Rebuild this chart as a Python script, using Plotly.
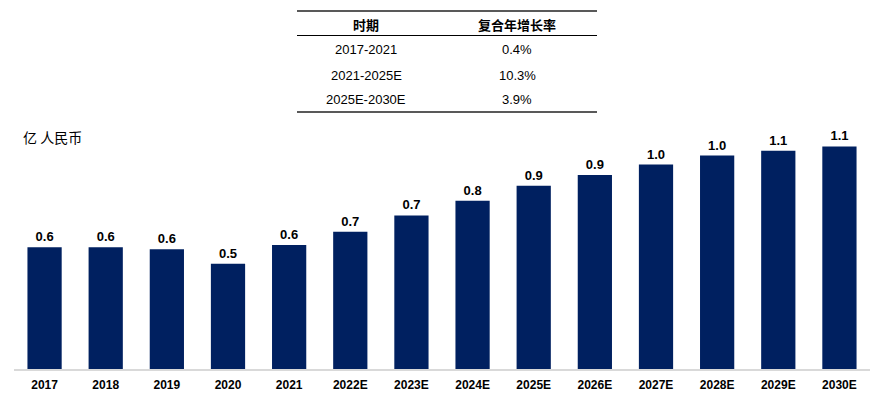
import plotly.graph_objects as go

years = ["2017", "2018", "2019", "2020", "2021", "2022E", "2023E", "2024E",
         "2025E", "2026E", "2027E", "2028E", "2029E", "2030E"]
values = [0.59, 0.59, 0.58, 0.51, 0.60, 0.665, 0.744, 0.815,
          0.888, 0.94, 0.99, 1.034, 1.057, 1.078]
periods = ["2017-2021", "2021-2025E", "2025E-2030E"]
cagr = ["0.4%", "10.3%", "3.9%"]
unit_label = "亿 人民币"
table_headers = ["时期", "复合年增长率"]

OFF = 8  # default page body margin
W, H = 884 - OFF, 401 - OFF
X0, X1, Y0, Y1 = 14, 870, 120, 369
ML, MR, MT, MB = X0 - OFF, 884 - X1, Y0 - OFF, 401 - Y1
PW, PH = X1 - X0, Y1 - Y0


def px(x):
    return (x - X0) / PW


def py(y):
    return (Y1 - y) / PH


fig = go.Figure(go.Bar(
    x=years, y=values,
    marker=dict(color="#002060", line=dict(width=0)),
    texttemplate="<b>%{y:.1f}</b>", textposition="outside",
    textfont=dict(family="Liberation Sans, Arial", size=13, color="#000000"),
    cliponaxis=False,
))

annotations = []
shapes = []

annotations.append(dict(x=px(21), y=py(137), xref="paper", yref="paper",
                        text=unit_label, showarrow=False, xanchor="left", yanchor="middle",
                        font=dict(family="Noto Sans CJK SC", size=14, color="#000000")))

tx0, tx1 = 297, 597
col1, col2 = 366, 517
shapes.append(dict(type="line", xref="paper", yref="paper", x0=px(tx0), x1=px(tx1),
                   y0=py(11), y1=py(11), line=dict(color="#595959", width=2)))
shapes.append(dict(type="line", xref="paper", yref="paper", x0=px(tx0), x1=px(tx1),
                   y0=py(35.5), y1=py(35.5), line=dict(color="#000000", width=1)))
shapes.append(dict(type="line", xref="paper", yref="paper", x0=px(tx0), x1=px(tx1),
                   y0=py(112), y1=py(112), line=dict(color="#595959", width=2)))
for hx, ht in zip([col1, col2], table_headers):
    annotations.append(dict(x=px(hx), y=py(24), xref="paper", yref="paper", text="<b>" + ht + "</b>",
                            showarrow=False, xanchor="center", yanchor="middle",
                            font=dict(family="Noto Sans CJK SC", size=13, color="#000000")))
row_y = [49, 75.5, 100]
for p, c, ry in zip(periods, cagr, row_y):
    annotations.append(dict(x=px(col1), y=py(ry), xref="paper", yref="paper", text=p,
                            showarrow=False, xanchor="center", yanchor="middle",
                            font=dict(family="Liberation Sans, Arial", size=13, color="#000000")))
    annotations.append(dict(x=px(col2), y=py(ry), xref="paper", yref="paper", text=c,
                            showarrow=False, xanchor="center", yanchor="middle",
                            font=dict(family="Liberation Sans, Arial", size=13, color="#000000")))

fig.update_layout(
    width=W, height=H,
    margin=dict(l=ML, r=MR, t=MT, b=MB, pad=0),
    paper_bgcolor="white", plot_bgcolor="white",
    showlegend=False,
    bargap=0.44,
    annotations=annotations,
    shapes=shapes,
    xaxis=dict(showgrid=False, showline=True, linecolor="#D9D9D9", linewidth=2,
               ticks="", ticklabelstandoff=4,
               tickfont=dict(family="Liberation Sans, Arial", size=12, color="#000000",
                             weight="bold")),
    yaxis=dict(range=[0, 1.206], visible=False, showgrid=False, zeroline=False),
)

fig.write_html("out.html")
